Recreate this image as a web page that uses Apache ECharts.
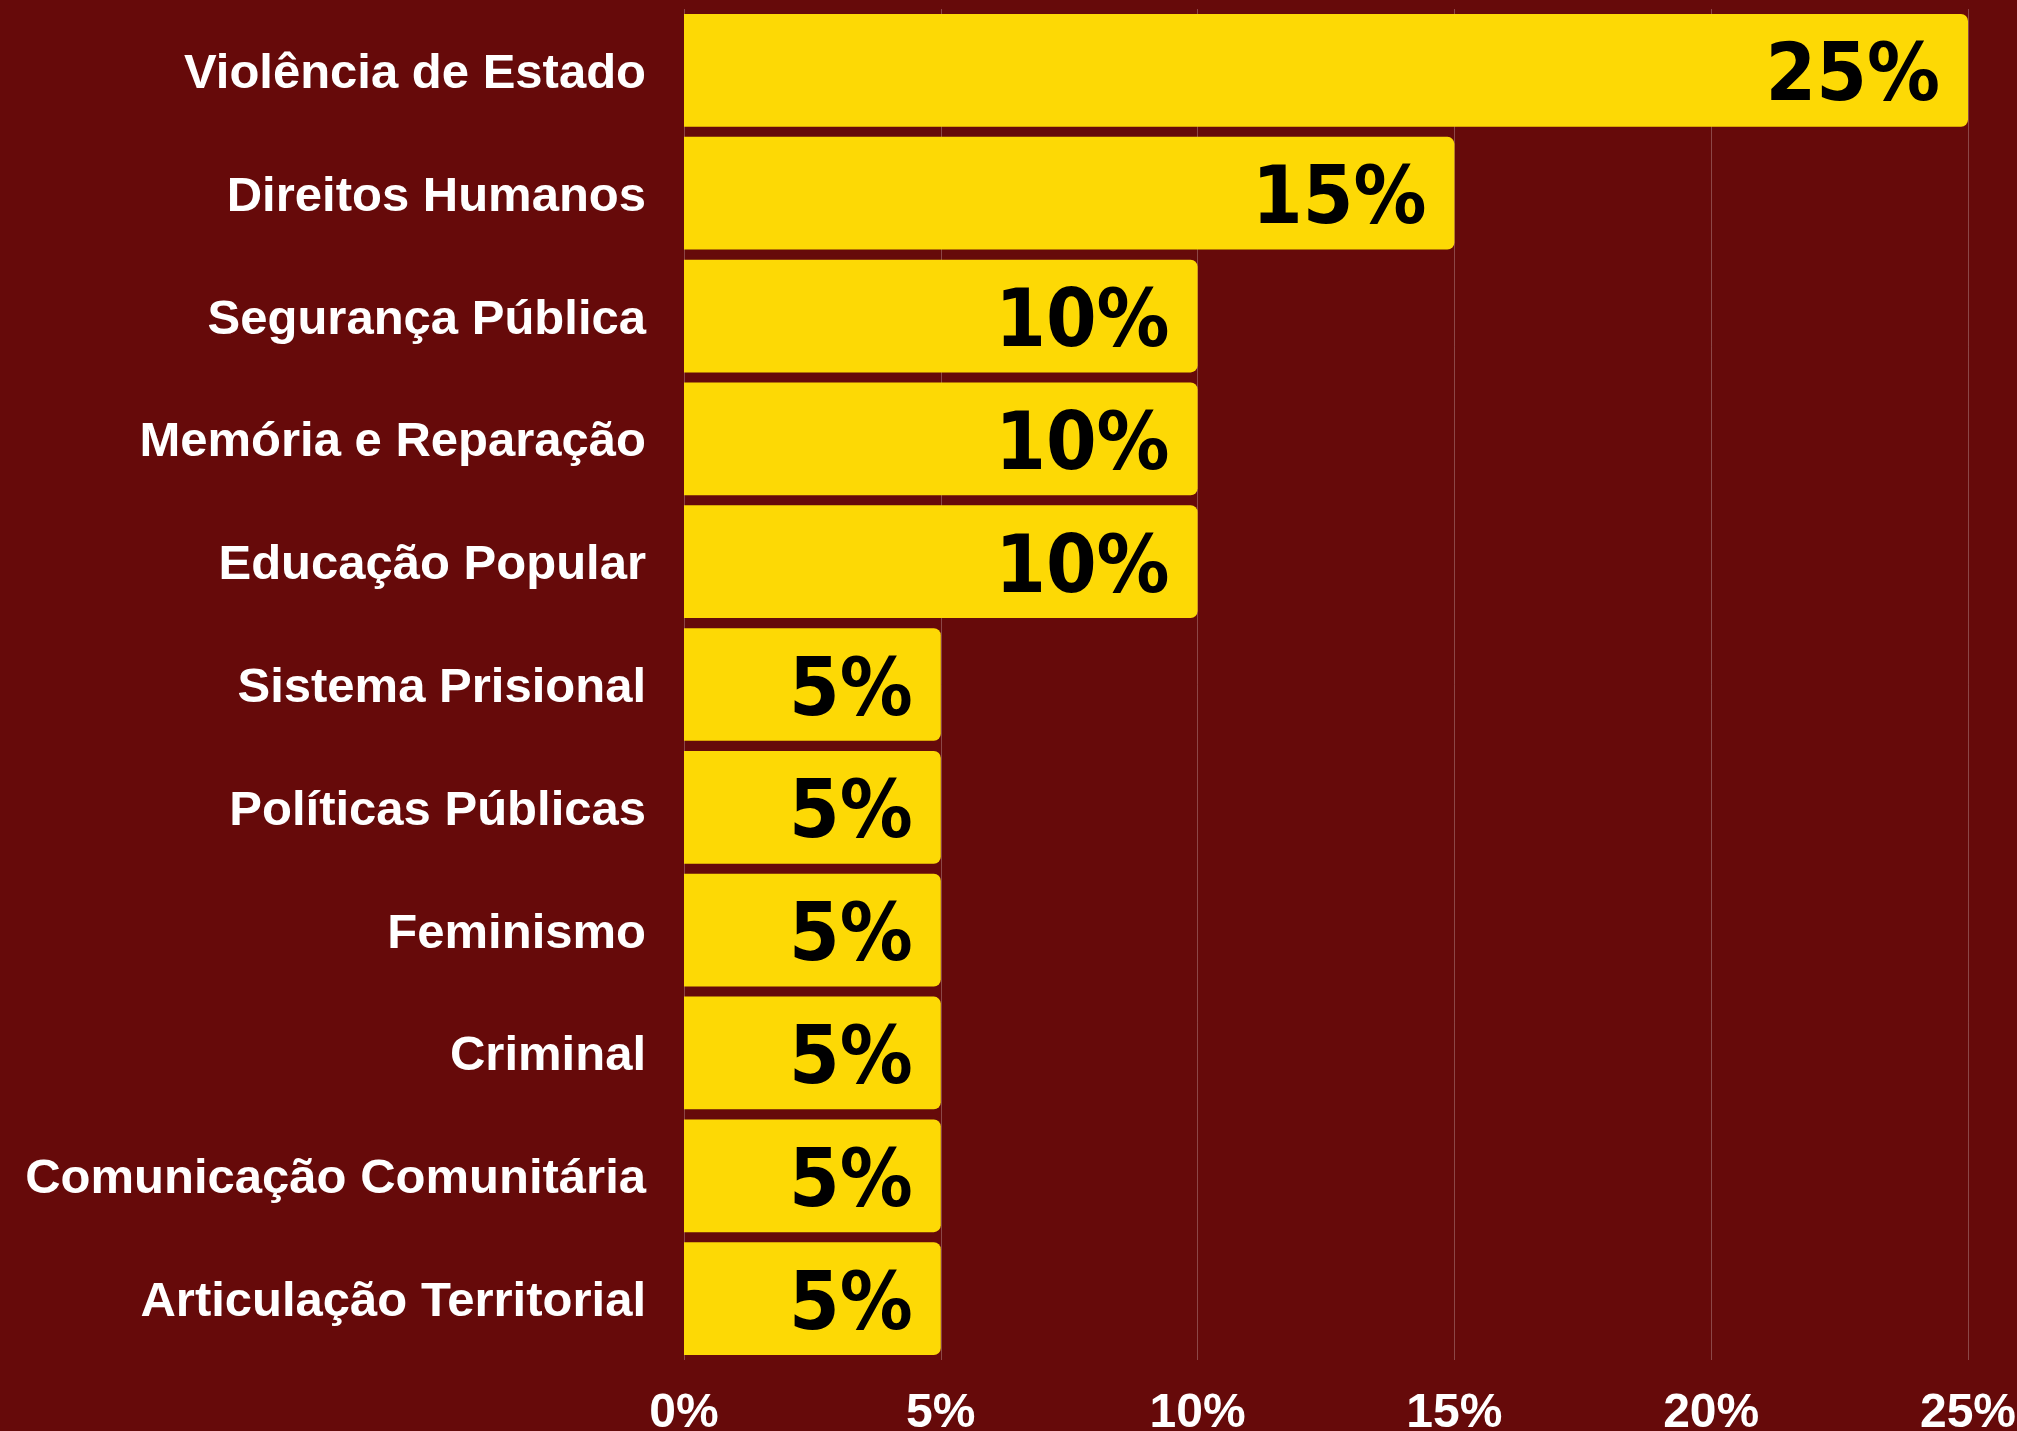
<!DOCTYPE html>
<html>
<head>
<meta charset="utf-8">
<script src="https://cdn.jsdelivr.net/npm/echarts@6/dist/echarts.min.js"></script>
<style>
html,body{margin:0;padding:0;background:#660a0a;}
#chart{width:2017px;height:1431px;}
</style>
</head>
<body>
<div id="chart"></div>
<script>
const categories = [
  "Violência de Estado",
  "Direitos Humanos",
  "Segurança Pública",
  "Memória e Reparação",
  "Educação Popular",
  "Sistema Prisional",
  "Políticas Públicas",
  "Feminismo",
  "Criminal",
  "Comunicação Comunitária",
  "Articulação Territorial"
];
const values = [25, 15, 10, 10, 10, 5, 5, 5, 5, 5, 5];
const xTicks = [0, 5, 10, 15, 20, 25];

// pick a condensed bold font that is actually installed
function widthOf(fam) {
  const c = document.createElement('canvas').getContext('2d');
  c.font = 'bold 100px ' + fam;
  return c.measureText('25%').width;
}
const fallbackW = widthOf('monospace');
const candidates = ["'Liberation Sans Narrow'", "'DejaVu Sans Condensed'", "'Arial Narrow'", "'Roboto Condensed'", "'Open Sans Condensed'"];
let labelFont = "'Liberation Sans'";
for (const f of candidates) {
  const w = widthOf(f + ', monospace');
  if (Math.abs(w - fallbackW) > 0.5) { labelFont = f; break; }
}
// compromise between width (~154px for "25%") and cap height (~66px)
const w100 = widthOf(labelFont + ', sans-serif');
const sizeByWidth = 154 / w100 * 100;
const labelSize = Math.round(Math.min(92, (sizeByWidth + 90) / 2));

const chart = echarts.init(document.getElementById('chart'));
chart.setOption({
  backgroundColor: '#660a0a',
  animation: false,
  grid: { left: 684, right: 49, top: 9, height: 1351, containLabel: false, outerBoundsMode: 'none' },
  xAxis: {
    type: 'value',
    min: xTicks[0],
    max: xTicks[xTicks.length - 1],
    interval: 5,
    axisLine: { show: false },
    axisTick: { show: false },
    splitLine: { show: true, lineStyle: { color: 'rgba(255,255,255,0.25)', width: 1 } },
    axisLabel: {
      formatter: '{value}%',
      color: '#ffffff',
      fontFamily: 'Liberation Sans',
      fontWeight: 'bold',
      fontSize: 48,
      margin: 30
    }
  },
  yAxis: {
    type: 'category',
    data: categories,
    inverse: true,
    axisLine: { show: false },
    axisTick: { show: false },
    splitLine: { show: false },
    axisLabel: {
      color: '#ffffff',
      fontFamily: 'Liberation Sans',
      fontWeight: 'bold',
      fontSize: 49,
      margin: 38,
      align: 'right',
      formatter: function (v) { return '{gap|}\n{t|' + v + '}'; },
      rich: {
        gap: { height: 8, lineHeight: 8, fontSize: 8 },
        t: {
          color: '#ffffff',
          fontFamily: 'Liberation Sans',
          fontWeight: 'bold',
          fontSize: 49,
          align: 'right'
        }
      }
    }
  },
  series: [{
    type: 'bar',
    data: values,
    barCategoryGap: '8.2%',
    itemStyle: { color: '#fdd905', borderRadius: [0, 7, 7, 0] },
    label: {
      show: true,
      position: 'insideRight',
      distance: 28,
      offset: [0, 9],
      formatter: '{c}%',
      color: '#000000',
      fontFamily: labelFont + ', sans-serif',
      fontWeight: 'bold',
      fontSize: labelSize
    }
  }]
});
</script>
</body>
</html>
